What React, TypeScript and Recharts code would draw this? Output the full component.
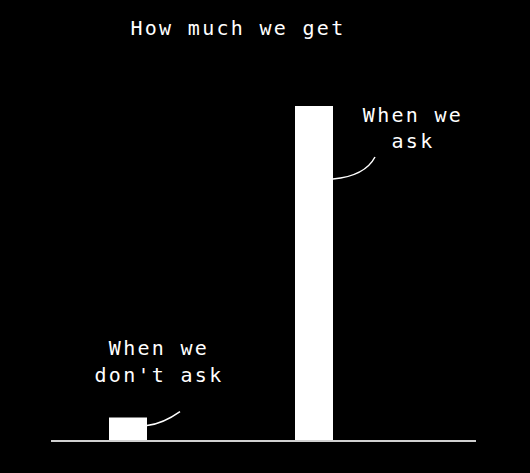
import React from "react";
import { BarChart, Bar, XAxis, YAxis, LabelList, Customized } from "recharts";

const categories = ["When we don't ask", "When we ask"];
const values = [7, 100];
const labelLines = [
  ["When we", "don't ask"],
  ["When we", "ask"],
];
const title = "How much we get";

const data = categories.map((c, i) => ({ name: c, value: values[i], lines: labelLines[i] }));

const FONT = "'DejaVu Sans Mono', 'Liberation Mono', monospace";

// annotation layout relative to each bar (index-based)
const annot = [
  { tx: 31, ty1: -63, ty2: -36, cy0: 8, cx1: 33, cy1: -6, qx: 16, qy: 6 },
  { tx: 99, ty1: 16, ty2: 42, cy0: 73, cx1: 42, cy1: 51, qx: 32, qy: 70 },
];

const Annotation = (props: any) => {
  const { x, y, width, index } = props;
  const a = annot[index];
  const lines = labelLines[index];
  const cx = x + width / 2;
  const rx = x + width;
  return (
    <g>
      <text x={cx + a.tx} y={y + a.ty1} fill="#fff" fontFamily={FONT} fontSize={20} letterSpacing={2.3} textAnchor="middle">
        {lines[0]}
      </text>
      <text x={cx + a.tx} y={y + a.ty2} fill="#fff" fontFamily={FONT} fontSize={20} letterSpacing={2.3} textAnchor="middle">
        {lines[1]}
      </text>
      <path
        d={`M${rx},${y + a.cy0} Q${rx + a.qx},${y + a.qy} ${rx + a.cx1},${y + a.cy1}`}
        stroke="#fff"
        strokeWidth={1.5}
        fill="none"
      />
    </g>
  );
};

const Title = (props: any) => {
  return (
    <text x={238} y={35} fill="#fff" fontFamily={FONT} fontSize={20} letterSpacing={2.3} textAnchor="middle">
      {title}
    </text>
  );
};

export default function App() {
  return (
    <div style={{ position: "fixed", left: 0, top: 0, width: 530, height: 473, background: "#000" }}>
      <BarChart width={530} height={473} data={data} margin={{ top: 106, right: 54, bottom: 31, left: 51 }}>
        <XAxis
          dataKey="name"
          height={1}
          tick={false}
          tickLine={false}
          axisLine={{ stroke: "#d0d0d0", strokeWidth: 2 }}
          padding={{ left: -16, right: 69 }}
        />
        <YAxis hide domain={[0, 100]} />
        <Bar dataKey="value" fill="#fff" barSize={38} isAnimationActive={false}>
          <LabelList dataKey="value" content={<Annotation />} />
        </Bar>
        <Customized component={<Title />} />
      </BarChart>
    </div>
  );
}
